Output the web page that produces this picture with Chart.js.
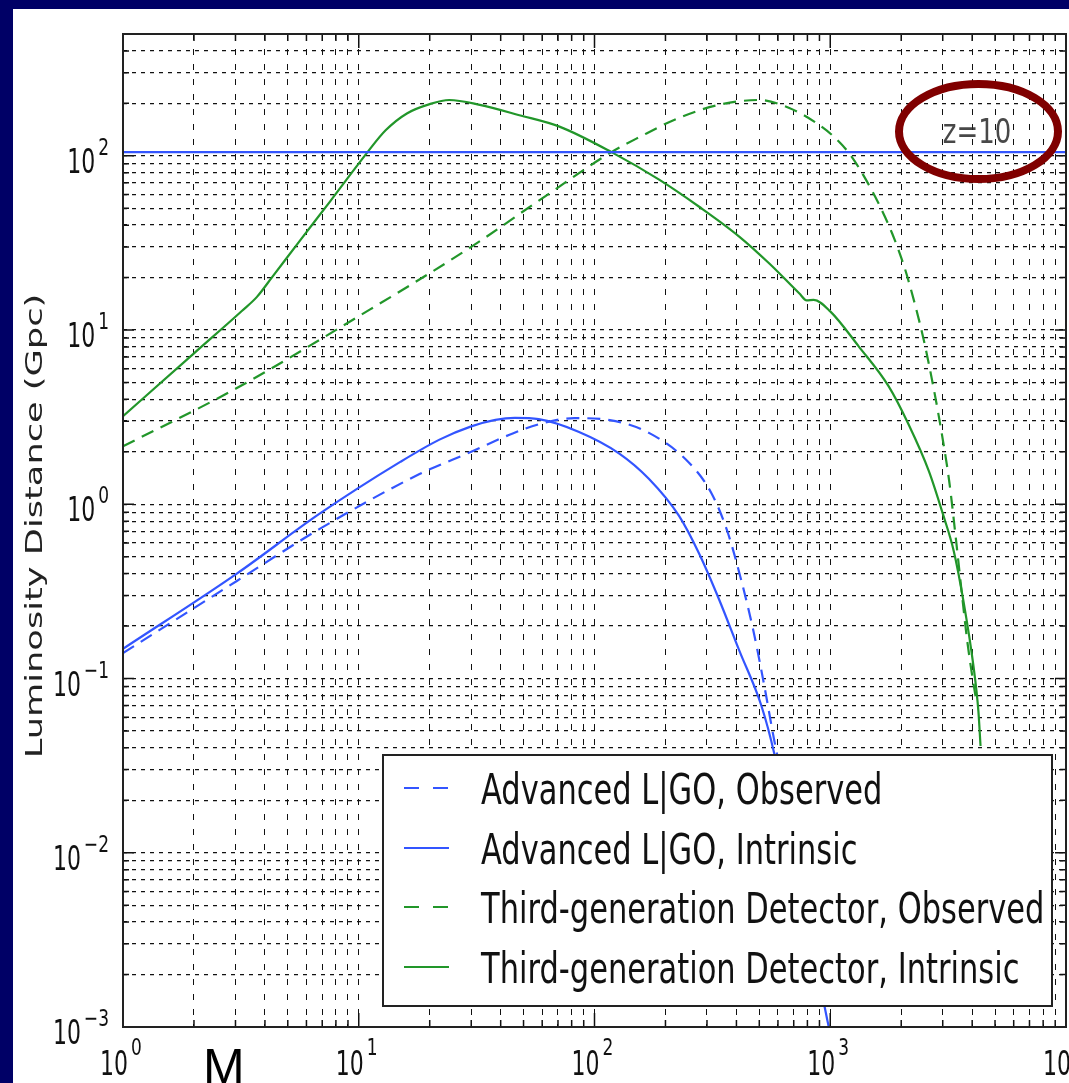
<!DOCTYPE html>
<html>
<head>
<meta charset="utf-8">
<script src="https://cdn.jsdelivr.net/npm/chart.js@4.4.1/dist/chart.umd.min.js"></script>
<style>
  html, body { margin: 0; padding: 0; background: #000066; }
  body { width: 1069px; height: 1083px; position: relative; overflow: hidden; }
  #sheet { position: absolute; left: 13px; top: 9px; right: 0; bottom: 0; background: #fff; }
  #chart { position: absolute; left: 0; top: 0; }
</style>
</head>
<body>
<div id="sheet"></div>
<canvas id="chart" width="1069" height="1083"></canvas>
<script>
/* ===== Axes ===== */
const X_DECADES = [0, 1, 2, 3, 4];
const Y_DECADES = [-3, -2, -1, 0, 1, 2];
const MINOR_STEPS = [1, 2, 3, 4, 5, 6, 7, 8, 9];
const X_MIN = 1, X_MAX = 10000;
const Y_MIN = 0.001, Y_MAX = 500;

const Y_TITLE = 'Luminosity Distance (Gpc)';
const X_NOTE = 'M';
const Z_NOTE = 'z=10';
const Z10_DISTANCE = 105;   // horizontal line, D_L at z = 10

/* ===== Series ===== */
const ligoObsMass = [1, 3.04, 6.8, 18.1, 30, 45, 62, 82, 116, 171, 253, 313, 366, 420, 472, 525, 579, 670];
const ligoObsDist = [0.14, 0.363, 0.72, 1.49, 2.0, 2.55, 2.95, 3.12, 3.04, 2.56, 1.72, 1.16, 0.70, 0.363, 0.188, 0.091, 0.044, 0.0175];

const ligoIntMass = [1, 3.04, 6.8, 15, 22, 30, 38, 46, 58, 86, 127, 170, 228, 278, 337, 411, 510, 579, 735, 971, 1100];
const ligoIntDist = [0.148, 0.40, 0.88, 1.75, 2.35, 2.8, 3.05, 3.13, 3.08, 2.6, 1.96, 1.4, 0.86, 0.52, 0.286, 0.145, 0.07, 0.037, 0.0072, 0.0011, 0.0005];

const tgObsMass = [1, 3, 10, 30, 60, 118, 155, 228, 337, 500, 670, 855, 1040, 1205, 1395, 1614, 1833, 2060, 2270, 2500, 2760, 2985, 3195, 3420, 3625, 3810, 4000, 4160];
const tgObsDist = [2.15, 4.6, 12, 30, 57, 105, 128, 165, 196, 209, 188, 157, 128, 103, 75.7, 52.3, 35.7, 23.1, 14.6, 8.61, 4.46, 2.46, 1.36, 0.615, 0.298, 0.165, 0.104, 0.075];

const tgIntMass = [1, 2, 3.2, 3.7, 4.3, 5.6, 7.55, 10.9, 13, 16, 20, 24.2, 32.6, 48, 71, 118, 188, 278, 411, 553, 740, 794, 850, 1000, 1320, 1770, 2150, 2620, 3020, 3340, 3670, 4050, 4250, 4340];
const tgIntDist = [3.2, 7.35, 12.9, 15.5, 20.2, 32.3, 54.6, 105, 140, 175, 198, 209, 196, 171, 147, 105, 73, 51, 34.4, 24, 16.2, 14.8, 14.9, 12.8, 8.06, 4.75, 2.87, 1.55, 0.86, 0.54, 0.28, 0.118, 0.065, 0.041];

const BLUE = '#3355ff';
const GREEN = '#22962a';
const INK = '#111';

function toPoints(xs, ys) {
  return xs.map((x, i) => ({ x: x, y: ys[i] }));
}

function logTicks(decades, lo, hi) {
  const out = [];
  decades.forEach(e => MINOR_STEPS.forEach(s => {
    const v = s * Math.pow(10, e);
    if (v >= lo && v <= hi) out.push({ value: v });
  }));
  return out;
}

function isDecade(v) {
  const e = Math.log10(v);
  return Math.abs(e - Math.round(e)) < 1e-9;
}

/* ===== Text helpers (picture is stretched vertically) ===== */
function stretchedText(ctx, text, x, y, size, sy, align, family) {
  ctx.save();
  ctx.font = size + 'px ' + (family || '"DejaVu Sans"');
  ctx.textAlign = align || 'left';
  ctx.textBaseline = 'alphabetic';
  ctx.translate(x, y);
  ctx.scale(1, sy);
  ctx.fillText(text, 0, 0);
  ctx.restore();
}

function expLabel(e) {
  return String(e).replace('-', '\u2212');
}

/* ===== Plugins ===== */
const frameAndTicks = {
  id: 'frameAndTicks',
  afterDatasetsDraw(chart) {
    const { ctx, chartArea: a, scales: { x, y } } = chart;
    ctx.save();
    ctx.strokeStyle = INK;
    ctx.lineWidth = 1.5;
    ctx.beginPath();
    x.ticks.forEach(t => {
      const px = x.getPixelForValue(t.value);
      const len = isDecade(t.value) ? 14 : 7;
      ctx.moveTo(px, a.bottom); ctx.lineTo(px, a.bottom - len);
      ctx.moveTo(px, a.top); ctx.lineTo(px, a.top + len);
    });
    y.ticks.forEach(t => {
      const py = y.getPixelForValue(t.value);
      const len = isDecade(t.value) ? 11 : 6;
      ctx.moveTo(a.left, py); ctx.lineTo(a.left + len, py);
      ctx.moveTo(a.right, py); ctx.lineTo(a.right - len, py);
    });
    ctx.stroke();
    ctx.strokeStyle = '#222';
    ctx.lineWidth = 2;
    ctx.strokeRect(a.left, a.top, a.right - a.left, a.bottom - a.top);
    ctx.restore();
  },
  afterDraw(chart) {
    const { ctx, chartArea: a, scales: { x, y } } = chart;
    ctx.save();
    ctx.fillStyle = INK;

    // y tick labels, right aligned
    Y_DECADES.forEach(e => {
      const py = y.getPixelForValue(Math.pow(10, e));
      const ex = expLabel(e);
      ctx.font = '17px "DejaVu Sans"';
      const ew = ctx.measureText(ex).width;
      const right = a.left - 14;
      stretchedText(ctx, ex, right - ew, py - 1, 17, 1.4, 'left');
      stretchedText(ctx, '10', right - ew - 3, py + 17, 22, 1.55, 'right');
    });

    // x tick labels, centred
    X_DECADES.forEach(e => {
      const px = x.getPixelForValue(Math.pow(10, e)) - 2;
      const ex = expLabel(e);
      ctx.font = '17px "DejaVu Sans"';
      const ew = ctx.measureText(ex).width;
      ctx.font = '22px "DejaVu Sans"';
      const tw = ctx.measureText('10').width;
      const left = px - (tw + 3 + ew) / 2;
      stretchedText(ctx, '10', left, a.bottom + 48, 22, 1.55, 'left');
      stretchedText(ctx, ex, left + tw + 3, a.bottom + 28, 17, 1.4, 'left');
    });

    // y axis title
    ctx.save();
    ctx.fillStyle = '#222';
    ctx.font = '23px "DejaVu Sans"';
    ctx.textAlign = 'center';
    ctx.textBaseline = 'alphabetic';
    ctx.translate(42, 526);
    ctx.scale(1, 1.53);
    ctx.rotate(-Math.PI / 2);
    ctx.fillText(Y_TITLE, 0, 0);
    ctx.restore();

    // slide annotation "M"
    ctx.fillStyle = '#000';
    ctx.font = '50px "Liberation Sans"';
    ctx.textAlign = 'left';
    ctx.fillText(X_NOTE, 203, 1084);

    // legend
    const box = { l: 383, t: 755, r: 1052, b: 1006 };
    ctx.fillStyle = '#fff';
    ctx.fillRect(box.l, box.t, box.r - box.l, box.b - box.t);
    ctx.strokeStyle = '#222';
    ctx.lineWidth = 2;
    ctx.strokeRect(box.l, box.t, box.r - box.l, box.b - box.t);
    const rows = [788, 848, 907, 967];
    chart.data.datasets.filter(d => d.inLegend).forEach((d, i) => {
      const ry = rows[i];
      ctx.save();
      ctx.strokeStyle = d.borderColor;
      ctx.lineWidth = 2;
      ctx.setLineDash(d.borderDash.length ? [15, 14] : []);
      ctx.beginPath();
      ctx.moveTo(404, ry); ctx.lineTo(449, ry);
      ctx.stroke();
      ctx.restore();
      ctx.fillStyle = INK;
      stretchedText(ctx, d.label, 481, ry + 15.5, 30.5, 1.4, 'left');
    });

    // z = 10 note with red ellipse
    ctx.fillStyle = 'rgba(40,40,40,0.85)';
    stretchedText(ctx, Z_NOTE, 977, 143, 26, 1.32, 'center');
    ctx.strokeStyle = '#800000';
    ctx.lineWidth = 8;
    ctx.beginPath();
    ctx.ellipse(978.5, 131.5, 79.5, 47.5, 0, 0, Math.PI * 2);
    ctx.stroke();

    ctx.restore();
  }
};

/* ===== Chart ===== */
function lineSet(label, xs, ys, color, dashed, inLegend) {
  return {
    label: label,
    data: toPoints(xs, ys),
    borderColor: color,
    borderWidth: 2.2,
    borderDash: dashed ? [13, 8] : [],
    pointRadius: 0,
    fill: false,
    cubicInterpolationMode: 'monotone',
    inLegend: inLegend,
  };
}

new Chart(document.getElementById('chart'), {
  type: 'line',
  data: {
    datasets: [
      lineSet('z=10 distance', [X_MIN, X_MAX], [Z10_DISTANCE, Z10_DISTANCE], BLUE, false, false),
      lineSet('Advanced L|GO, Observed', ligoObsMass, ligoObsDist, BLUE, true, true),
      lineSet('Advanced L|GO, Intrinsic', ligoIntMass, ligoIntDist, BLUE, false, true),
      lineSet('Third-generation Detector, Observed', tgObsMass, tgObsDist, GREEN, true, true),
      lineSet('Third-generation Detector, Intrinsic', tgIntMass, tgIntDist, GREEN, false, true),
    ]
  },
  options: {
    responsive: false,
    animation: false,
    layout: { padding: { left: 23, top: 34, right: 3, bottom: 6 } },
    plugins: { legend: { display: false }, tooltip: { enabled: false } },
    scales: {
      x: {
        type: 'logarithmic',
        min: X_MIN,
        max: X_MAX,
        afterBuildTicks: s => { s.ticks = logTicks(X_DECADES, X_MIN, X_MAX); },
        afterFit: s => { s.height = 50; s.paddingLeft = 0; s.paddingRight = 0; },
        ticks: { display: false },
        grid: { color: '#111', lineWidth: 1, drawTicks: false },
        border: { display: false, dash: [6, 9] },
      },
      y: {
        type: 'logarithmic',
        min: Y_MIN,
        max: Y_MAX,
        afterBuildTicks: s => { s.ticks = logTicks(Y_DECADES, Y_MIN, Y_MAX); },
        afterFit: s => { s.width = 100; s.paddingTop = 0; s.paddingBottom = 0; },
        ticks: { display: false },
        grid: { color: '#111', lineWidth: 1.3, drawTicks: false },
        border: { display: false, dash: [4, 5] },
      }
    }
  },
  plugins: [frameAndTicks]
});
</script>
</body>
</html>
